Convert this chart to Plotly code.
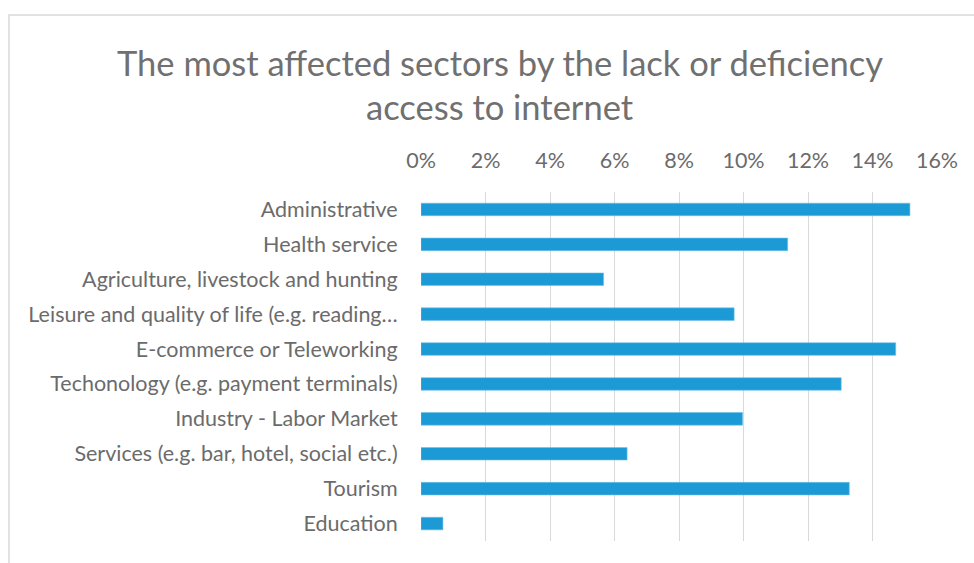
import plotly.graph_objects as go

# Sectors, listed top to bottom as they appear on the chart
sectors = [
    "Administrative",
    "Health service",
    "Agriculture, livestock and hunting",
    "Leisure and quality of life (e.g. reading…",
    "E-commerce or Teleworking",
    "Techonology (e.g. payment terminals)",
    "Industry - Labor Market",
    "Services (e.g. bar, hotel, social etc.)",
    "Tourism",
    "Education",
]
# Share of respondents (%)
shares = [15.16, 11.37, 5.66, 9.71, 14.72, 13.03, 9.97, 6.39, 13.28, 0.68]

x_ticks = [0, 2, 4, 6, 8, 10, 12, 14, 16]

title_lines = [
    "The most affected sectors by the lack or deficiency",
    "access to internet",
]

W, H = 974, 563
L, R, T, B = 421, 37, 192, 22
PW, PH = W - L - R, H - T - B
FONT = "Lato"
TEXT = "#6b6b6b"

fig = go.Figure(
    go.Bar(
        x=shares,
        y=sectors,
        orientation="h",
        marker=dict(color="#1c9ad6", line=dict(color="#6fc0e8", width=0.6)),
        width=0.36,
        hoverinfo="x+y",
    )
)

fig.update_layout(
    width=W,
    height=H,
    margin=dict(l=L, r=R, t=T, b=B),
    paper_bgcolor="white",
    plot_bgcolor="white",
    showlegend=False,
    font=dict(family=FONT, color=TEXT),
)

# Two-line chart title, centred over the chart area
for line, py in zip(title_lines, [62, 106]):
    fig.add_annotation(
        text=line,
        xref="paper",
        yref="paper",
        x=(500 - L) / PW,
        y=(H - B - py) / PH,
        xanchor="center",
        yanchor="middle",
        showarrow=False,
        font=dict(family=FONT, size=34.5, color="#707070"),
    )

fig.update_xaxes(
    side="top",
    range=[0, 16],
    tickvals=x_ticks,
    ticktext=[f"{v}%" for v in x_ticks],
    showgrid=True,
    gridcolor="#d9d9d9",
    gridwidth=1.3,
    zeroline=False,
    showline=False,
    ticks="outside",
    ticklen=14,
    tickcolor="rgba(0,0,0,0)",
    tickfont=dict(family=FONT, size=21.5, color=TEXT),
    fixedrange=True,
)

fig.update_yaxes(
    categoryorder="array",
    categoryarray=sectors,
    autorange="reversed",
    showgrid=False,
    showline=False,
    zeroline=False,
    ticks="outside",
    ticklen=18,
    tickcolor="rgba(0,0,0,0)",
    tickfont=dict(family=FONT, size=21.5, color=TEXT),
    fixedrange=True,
)

# Chart-area frame
fig.add_shape(
    type="rect",
    xref="paper",
    yref="paper",
    x0=-(L - 9) / PW,
    x1=1.2,
    y0=-0.2,
    y1=1 + (T - 15) / PH,
    line=dict(color="#d9d9d9", width=1.5),
    fillcolor="rgba(0,0,0,0)",
    layer="below",
)

fig.write_html("out.html")
